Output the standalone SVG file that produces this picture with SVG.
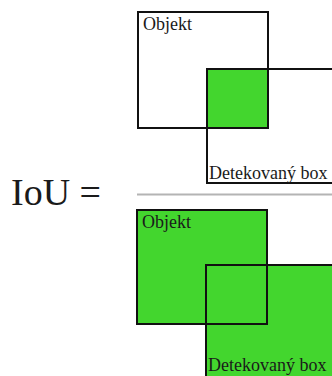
<svg xmlns="http://www.w3.org/2000/svg" width="332" height="376" viewBox="0 0 332 376">
<style>
.box{fill:none;stroke:#111;stroke-width:2}
.g{fill:#43d62e}
.lbl{font-family:"Liberation Serif",serif;font-size:18px;fill:#1a1a1a}
.big{font-family:"Liberation Serif",serif;font-size:38px;fill:#1a1a1a}
</style>
<rect width="332" height="376" fill="#fff"/>
<g id="iou-label"><text class="big" x="11" y="205">IoU =</text></g>
<g id="intersection">
<rect class="g" x="207" y="69" width="61" height="59"/>
<rect class="box" x="138" y="12" width="130" height="116"/>
<rect class="box" x="207" y="69" width="130" height="114"/>
<text class="lbl" x="143" y="30">Objekt</text>
<text class="lbl" x="209" y="179">Detekovaný box</text>
</g>
<g id="divider"><line x1="137" y1="194.5" x2="332" y2="194.5" stroke="#b4b4b4" stroke-width="2"/></g>
<g id="union">
<rect class="g" x="137" y="210" width="130" height="114"/>
<rect class="g" x="206" y="265" width="130" height="120"/>
<rect class="box" x="137" y="210" width="130" height="114"/>
<rect class="box" x="206" y="265" width="130" height="120"/>
<text class="lbl" x="142" y="228">Objekt</text>
<text class="lbl" x="208" y="371">Detekovaný box</text>
</g>
</svg>
